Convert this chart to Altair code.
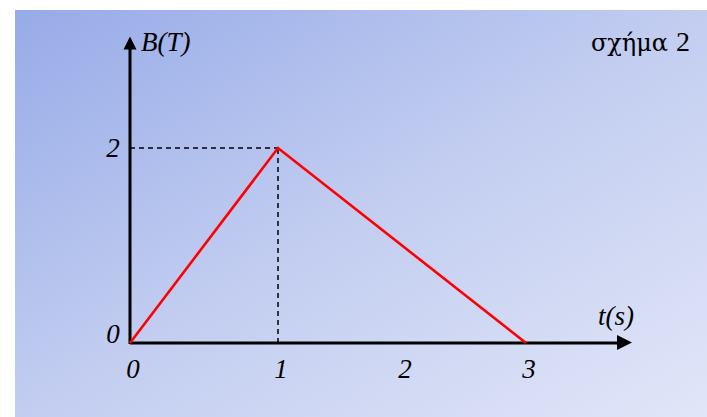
import altair as alt
import pandas as pd

# B(T) against t(s): linear rise to the peak, then linear fall
t_values = [0, 1, 3]
b_values = [0, 2, 0]

# tick labels on each axis
x_ticks = [0, 1, 2, 3]
x_tick_text = ["0", "1", "2", "3"]
y_ticks = [2]
y_tick_text = ["2"]
origin_text = ["0"]

peak_t = [1]
peak_b = [2]

W, H = 707, 417
SERIF = "Liberation Serif, Times New Roman, DejaVu Serif, serif"
GREEK_SERIF = "DejaVu Serif, serif"
FS = 27

x_scale = alt.Scale(domain=[0, 1, 3], range=[130, 278, 526], nice=False, zero=False)
y_scale = alt.Scale(domain=[0, 2], range=[343, 148], nice=False, zero=False)

one = alt.Data(values=[{}])

background = alt.Chart(one).mark_rect(
    fill=alt.LinearGradient(
        gradient="linear", x1=0, y1=0, x2=1, y2=1,
        stops=[alt.GradientStop(color="#97abe8", offset=0),
               alt.GradientStop(color="#c2cdf0", offset=0.5),
               alt.GradientStop(color="#e1e6f8", offset=1)],
    )
).encode(x=alt.value(15), x2=alt.value(W), y=alt.value(10), y2=alt.value(H))

x_axis_line = alt.Chart(one).mark_rule(color="black", strokeWidth=3).encode(
    x=alt.value(130), x2=alt.value(618), y=alt.value(343)
)
y_axis_line = alt.Chart(one).mark_rule(color="black", strokeWidth=3).encode(
    x=alt.value(130), y=alt.value(344), y2=alt.value(48)
)
x_arrow = alt.Chart(one).mark_point(
    shape="M-1,-1L1,0L-1,1Z", filled=True, color="black", opacity=1, size=225
).encode(x=alt.value(624.5), y=alt.value(342.5))
y_arrow = alt.Chart(one).mark_point(
    shape="M-1,1L0,-1L1,1Z", filled=True, color="black", opacity=1, size=170
).encode(x=alt.value(130), y=alt.value(43))

peak = pd.DataFrame({"t": peak_t, "B": peak_b, "t0": [0] * len(peak_t), "b0": [0] * len(peak_b)})
h_guide = alt.Chart(peak).mark_rule(color="black", strokeWidth=1.5, strokeDash=[5, 4]).encode(
    x=alt.X("t0:Q", scale=x_scale, axis=None), x2="t:Q",
    y=alt.Y("B:Q", scale=y_scale, axis=None),
)
v_guide = alt.Chart(peak).mark_rule(color="black", strokeWidth=1.5, strokeDash=[5, 4]).encode(
    x=alt.X("t:Q", scale=x_scale, axis=None),
    y=alt.Y("b0:Q", scale=y_scale, axis=None), y2="B:Q",
)

series = pd.DataFrame({"t": t_values, "B": b_values})
line = alt.Chart(series).mark_line(color="#ff0000", strokeWidth=2.6).encode(
    x=alt.X("t:Q", scale=x_scale, axis=None),
    y=alt.Y("B:Q", scale=y_scale, axis=None),
)

xt = pd.DataFrame({"t": x_ticks, "label": x_tick_text, "B": [0] * len(x_ticks)})
x_labels = alt.Chart(xt).mark_text(
    font=SERIF, fontStyle="italic", fontSize=FS, color="black", dx=3, dy=27, baseline="middle"
).encode(
    x=alt.X("t:Q", scale=x_scale, axis=None),
    y=alt.Y("B:Q", scale=y_scale, axis=None),
    text="label:N",
)

yt = pd.DataFrame({"B": y_ticks, "label": y_tick_text, "t": [0] * len(y_ticks)})
y_labels = alt.Chart(yt).mark_text(
    font=SERIF, fontStyle="italic", fontSize=FS, color="black", dx=-17, dy=1, baseline="middle"
).encode(
    x=alt.X("t:Q", scale=x_scale, axis=None),
    y=alt.Y("B:Q", scale=y_scale, axis=None),
    text="label:N",
)

ot = pd.DataFrame({"B": [0], "t": [0], "label": origin_text})
origin_label = alt.Chart(ot).mark_text(
    font=SERIF, fontStyle="italic", fontSize=FS, color="black", dx=-17, dy=-8, baseline="middle"
).encode(
    x=alt.X("t:Q", scale=x_scale, axis=None),
    y=alt.Y("B:Q", scale=y_scale, axis=None),
    text="label:N",
)

b_title = alt.Chart(one).mark_text(
    text="B(T)", font=SERIF, fontStyle="italic", fontSize=FS, color="black",
    align="left", baseline="alphabetic"
).encode(x=alt.value(141), y=alt.value(51))

t_title = alt.Chart(one).mark_text(
    text="t(s)", font=SERIF, fontStyle="italic", fontSize=FS, color="black",
    align="left", baseline="alphabetic"
).encode(x=alt.value(598), y=alt.value(325))

# figure caption: Greek word, then the figure number
fig_word = alt.Chart(one).mark_text(
    text="σχήμα", font=GREEK_SERIF, fontSize=24, color="black",
    align="right", baseline="alphabetic"
).encode(x=alt.value(668), y=alt.value(51))
fig_num = alt.Chart(one).mark_text(
    text="2", font=SERIF, fontSize=28, color="black",
    align="right", baseline="alphabetic"
).encode(x=alt.value(690), y=alt.value(51))

chart = alt.layer(
    background, h_guide, v_guide, x_axis_line, y_axis_line, x_arrow, y_arrow,
    line, x_labels, y_labels, origin_label, b_title, t_title, fig_word, fig_num,
).properties(
    width=W, height=H, padding=0, autosize=alt.AutoSizeParams(type="none"),
    background="white",
).configure_view(stroke=None)

chart.save("out.html", embed_options={"renderer": "svg", "actions": False})
